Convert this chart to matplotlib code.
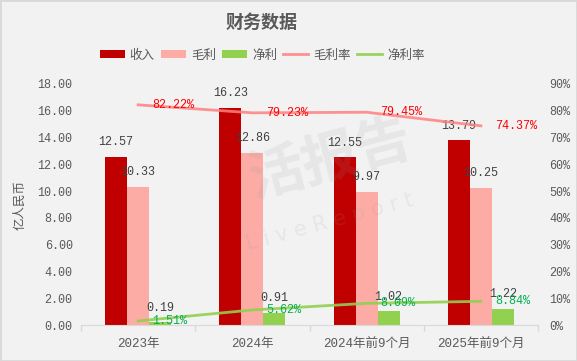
import numpy as np
import matplotlib.pyplot as plt
from matplotlib.patches import Rectangle

# 数据
categories = ["2023年", "2024年", "2024年前9个月", "2025年前9个月"]
revenue = [12.57, 16.23, 12.55, 13.79]
gross = [10.33, 12.86, 9.97, 10.25]
net = [0.19, 0.91, 1.02, 1.22]
gross_rate = [82.22, 79.23, 79.45, 74.37]
net_rate = [1.51, 5.62, 8.09, 8.84]
left_ticks = np.arange(0, 18.01, 2)
right_ticks = np.arange(0, 90.1, 10)

num_font = ['Liberation Mono', 'Noto Sans CJK SC']
cjk_font = ['Noto Sans CJK SC', 'DejaVu Sans']
gray = '#595959'

fig = plt.figure(figsize=(5.77, 3.61), dpi=100)
fig.patch.set_facecolor('#F2F2F2')
fig.patches.append(Rectangle((0, 0), 1, 1, transform=fig.transFigure, fill=False,
                             edgecolor='#D9D9D9', linewidth=2))

ax = fig.add_axes([81/577, 36/361, 457/577, 241/361])
ax.set_facecolor('#F2F2F2')
x = np.arange(len(categories))
w = 0.193

b1 = ax.bar(x - w, revenue, w, color='#C00000', label='收入', zorder=2)
b2 = ax.bar(x, gross, w, color='#FCACA5', label='毛利', zorder=2)
b3 = ax.bar(x + w, net, w, color='#92D050', label='净利', zorder=2)

for bars, vals in [(b1, revenue), (b2, gross), (b3, net)]:
    for r, v in zip(bars, vals):
        ax.annotate("%.2f" % v, (r.get_x() + r.get_width()/2, v), xytext=(0, 6),
                    textcoords='offset points', ha='center', va='bottom',
                    fontsize=8.5, color='#404040', family=num_font, zorder=5)

ax.set_xlim(-0.5, 3.5)
ax.set_ylim(0, 18)
ax.set_yticks(left_ticks)
ax.set_yticklabels(["%.2f" % t for t in left_ticks], family=num_font, fontsize=8.5, color=gray)
ax.set_xticks(x)
ax.set_xticklabels(categories, family=num_font, fontsize=9, color=gray)
ax.set_xticks(np.arange(-0.5, 3.6, 1), minor=True)
ax.tick_params(axis='x', which='major', length=0, pad=9)
ax.tick_params(axis='x', which='minor', length=4, color='#D9D9D9', width=1)
ax.tick_params(axis='y', length=0, pad=6)
for s in ['top', 'left', 'right']:
    ax.spines[s].set_visible(False)
ax.spines['bottom'].set_color('#D9D9D9')
ax.set_ylabel('亿人民币', family=cjk_font, fontsize=9, color=gray, labelpad=8)

ax2 = ax.twinx()
ax2.set_ylim(0, 90)
ax2.set_yticks(right_ticks)
ax2.set_yticklabels(["%d%%" % t for t in right_ticks], family=num_font, fontsize=8.5, color=gray)
ax2.tick_params(axis='y', length=0, pad=8)
for s in ['top', 'left', 'right', 'bottom']:
    ax2.spines[s].set_visible(False)

l1, = ax2.plot(x, gross_rate, color='#FF8080', lw=2, alpha=0.85, label='毛利率', zorder=3)
l2, = ax2.plot(x, net_rate, color='#92D050', lw=2, alpha=0.9, label='净利率', zorder=3)
for xi, v in zip(x, gross_rate):
    ax2.annotate("%.2f%%" % v, (xi, v), xytext=(10, 0), textcoords='offset points',
                 ha='left', va='center', fontsize=8.5, color='#FF0000', family=num_font)
for xi, v in zip(x, net_rate):
    ax2.annotate("%.2f%%" % v, (xi, v), xytext=(10, 0), textcoords='offset points',
                 ha='left', va='center', fontsize=8.5, color='#00B050', family=num_font)

# 水印
fig.text(330/577, 1 - 160/361, '活报告', fontsize=40, color='#999999', alpha=0.13,
         rotation=15, ha='center', va='center', family=cjk_font, fontweight='bold')
fig.text(330/577, 1 - 222/361, 'L i v e R e p o r t', fontsize=15, color='#999999', alpha=0.13,
         rotation=15, ha='center', va='center', family='DejaVu Sans')

fig.text(262/577, 1 - 22/361, '财务数据', fontsize=13, color='#595959', fontweight='bold',
         ha='center', va='center', family=cjk_font)

fig.legend(handles=[b1, b2, b3, l1, l2], loc='center', bbox_to_anchor=(262/577, 1 - 55/361),
           ncol=5, frameon=False, prop={'family': cjk_font, 'size': 9}, labelcolor=gray,
           handlelength=2.0, handleheight=0.6, handletextpad=0.4, columnspacing=0.5)

fig.savefig('out.png', dpi=100, facecolor=fig.get_facecolor())
